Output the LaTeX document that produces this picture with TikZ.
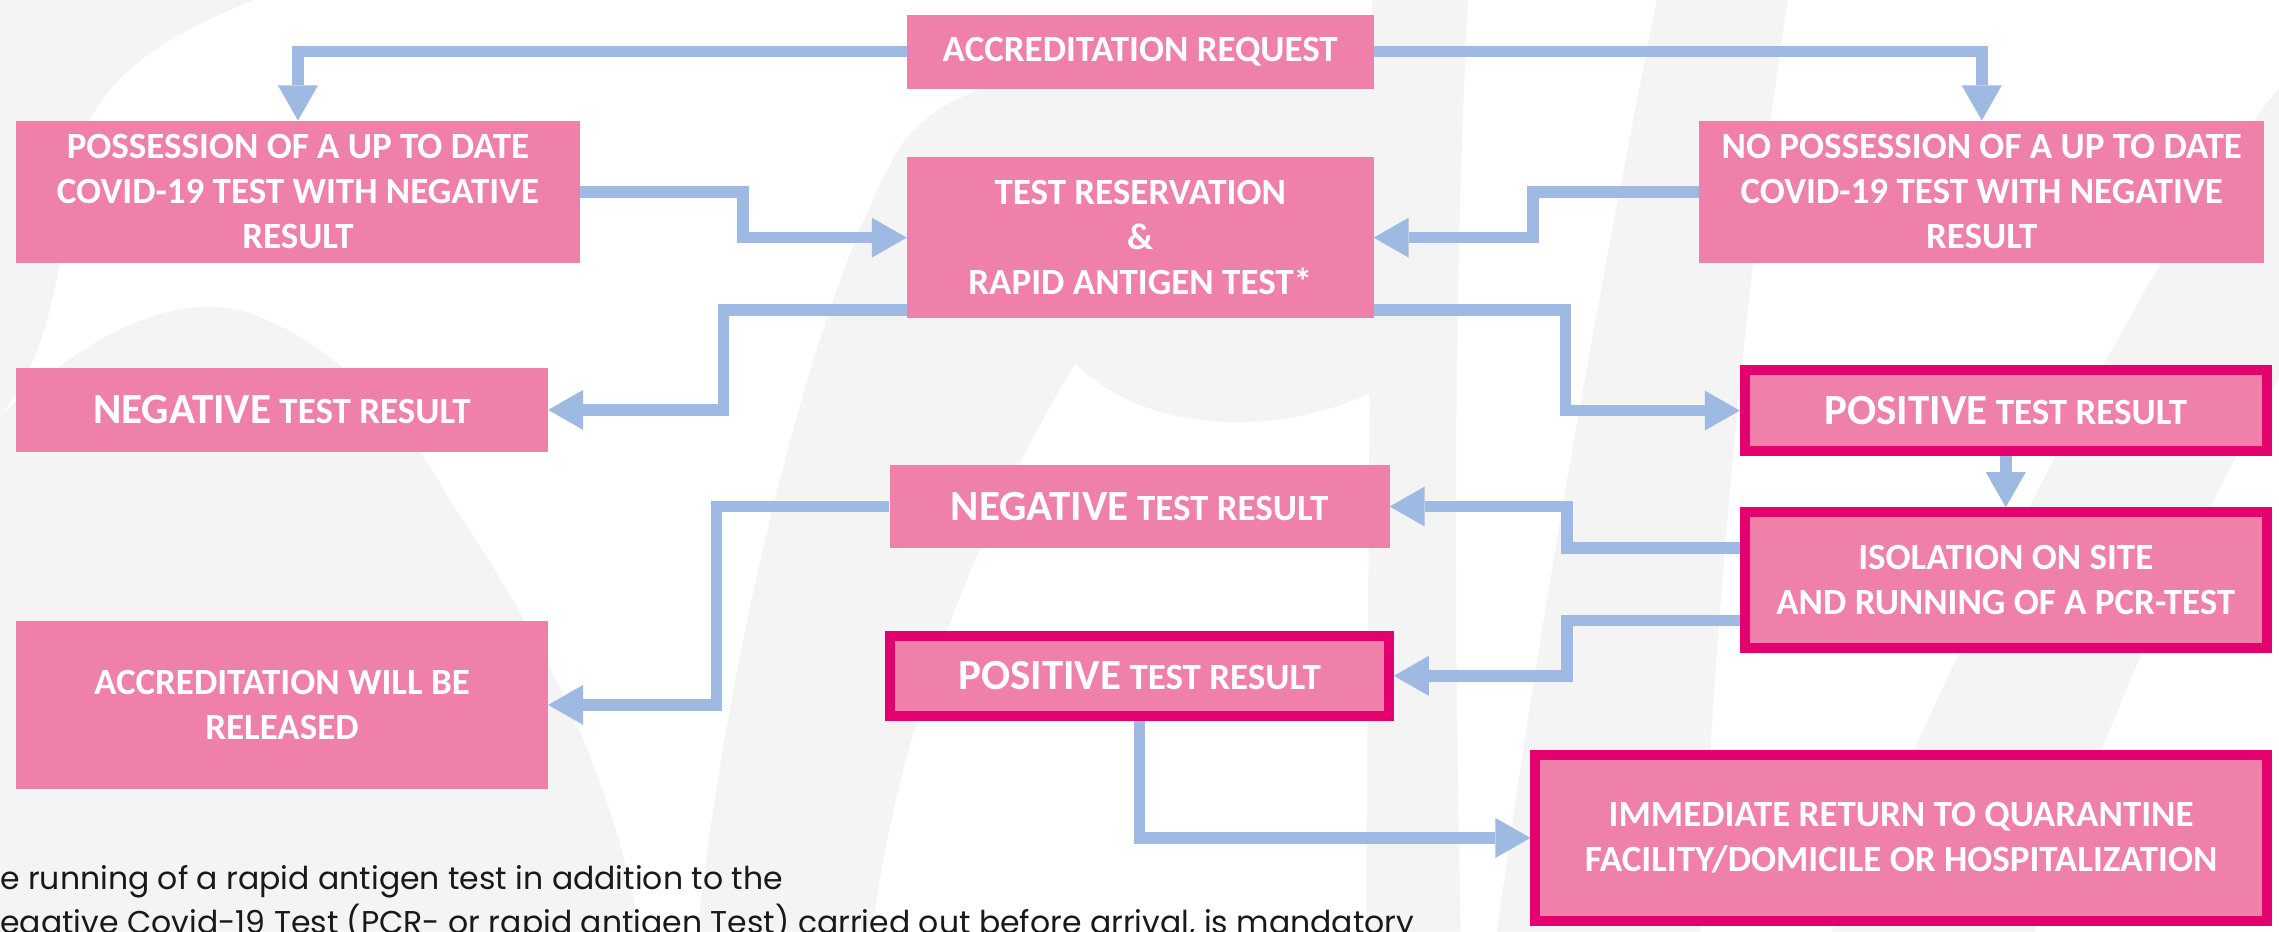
\documentclass[tikz,border=0pt]{standalone}
\usepackage{fontspec}
\setmainfont{Carlito}
\newfontfamily\notefont{Poppins}
\usetikzlibrary{arrows.meta}
\definecolor{boxpink}{RGB}{239,128,169}
\definecolor{boxborder}{RGB}{227,0,111}
\definecolor{arrowblue}{RGB}{158,185,226}
\definecolor{bggrey}{RGB}{244,244,244}
\tikzset{
  box/.style={rectangle, fill=boxpink, text=white, font=\fontsize{37}{45}\selectfont\bfseries, align=center, inner sep=0pt},
  hotbox/.style={box, draw=boxborder, line width=10pt},
  conn/.style={draw=arrowblue, line width=11.6pt,
    -{Triangle[length=35pt,width=40pt,line width=0pt,fill=arrowblue]}},
  notetext/.style={anchor=base west, inner sep=0pt, font=\notefont\fontsize{31.5}{42}\selectfont, text=black!90},
}
\newcommand{\bigword}[1]{{\fontsize{43}{45}\selectfont #1}}
\begin{document}
\begin{tikzpicture}[x=1.4535pt,y=-1.4535pt]
\useasboundingbox (0,0) rectangle (1568,641);
\fill[white] (0,0) rectangle (1568,641);
% background brush strokes
\fill[bggrey] (0,0) -- (175,0) .. controls (100,30) and (60,60) .. (50,120) .. controls (40,200) and (30,250) .. (0,286) -- cycle;
\fill[bggrey] (0,286) .. controls (60,230) and (120,200) .. (170,215) .. controls (230,235) and (280,290) .. (310,345) .. controls (360,420) and (420,520) .. (440,641) -- (0,641) -- cycle;
\fill[bggrey] (480,641) .. controls (500,450) and (560,200) .. (620,100) .. controls (650,60) and (700,50) .. (760,52) -- (944,55) -- (944,270) .. controls (880,300) and (790,300) .. (740,250) .. controls (690,330) and (620,480) .. (600,641) -- cycle;
\fill[bggrey] (944,0) -- (1010,0) .. controls (1000,200) and (1000,420) .. (1005,641) -- (940,641) -- cycle;
\fill[bggrey] (1030,641) .. controls (1060,420) and (1100,200) .. (1140,0) -- (1230,0) .. controls (1200,200) and (1180,420) .. (1170,641) -- cycle;
\fill[bggrey] (1260,641) .. controls (1360,420) and (1460,200) .. (1568,60) -- (1568,260) .. controls (1500,380) and (1440,520) .. (1400,641) -- cycle;

% boxes
\node[box, minimum width=466.6pt, minimum height=74.1pt] (accreq) at (784.5,35.5) {ACCREDITATION REQUEST};
\node[box, minimum width=564pt, minimum height=142.4pt] (poss) at (205,132) {POSSESSION OF A UP TO DATE\\COVID-19 TEST WITH NEGATIVE\\RESULT};
\node[box, minimum width=466.6pt, minimum height=161.3pt] (testres) at (784.5,163.5) {TEST RESERVATION\\\&\\RAPID ANTIGEN TEST*};
\node[box, minimum width=565.4pt, minimum height=142.4pt] (noposs) at (1363.5,132) {NO POSSESSION OF A UP TO DATE\\COVID-19 TEST WITH NEGATIVE\\RESULT};
\node[box, minimum width=532pt, minimum height=84.3pt] (negl) at (194,282) {\bigword{NEGATIVE} TEST RESULT};
\node[hotbox, minimum width=522pt, minimum height=81.6pt] (posr) at (1380,282.5) {\bigword{POSITIVE} TEST RESULT};
\node[box, minimum width=500pt, minimum height=82.8pt] (negm) at (784,348.5) {\bigword{NEGATIVE} TEST RESULT};
\node[hotbox, minimum width=522pt, minimum height=135.4pt] (isol) at (1380,399) {ISOLATION ON SITE\\AND RUNNING OF A PCR-TEST};
\node[box, minimum width=532pt, minimum height=168.6pt] (accrel) at (194,485) {ACCREDITATION WILL BE\\RELEASED};
\node[hotbox, minimum width=498.7pt, minimum height=80.1pt] (posm) at (784,465) {\bigword{POSITIVE} TEST RESULT};
\node[hotbox, minimum width=731.3pt, minimum height=165.9pt] (immed) at (1308,576.5) {IMMEDIATE RETURN TO QUARANTINE\\FACILITY/DOMICILE OR HOSPITALIZATION};

% connectors
\draw[conn] (accreq.west) -| (poss.north);
\draw[conn] (accreq.east) -| (noposs.north);
\draw[conn] (poss.east) -- ++(112,0) |- (testres.west);
\draw[conn] (noposs.west) -- ++(-114,0) |- (testres.east);
\draw[conn] ([yshift=8.7pt]testres.south west) -- ++(-126,0) |- (negl.east);
\draw[conn] ([yshift=8.7pt]testres.south east) -- ++(132,0) |- (posr.west);
\draw[conn] (posr.south) -- (isol.north);
\draw[conn] ([yshift=-40.7pt]isol.north west) -- ++(-119,0) |- (negm.east);
\draw[conn] ([yshift=32pt]isol.south west) -- ++(-119,0) |- (posm.east);
\draw[conn] (negm.west) -- ++(-119,0) |- (accrel.east);
\draw[conn] (posm.south) |- (immed.west);

% footnote
\node[notetext] (note1) at (0,612) {e running of a rapid antigen test in addition to the};
\node[notetext] (note2) at (0,642) {egative Covid-19 Test (PCR- or rapid antigen Test) carried out before arrival, is mandatory};
\end{tikzpicture}
\end{document}
